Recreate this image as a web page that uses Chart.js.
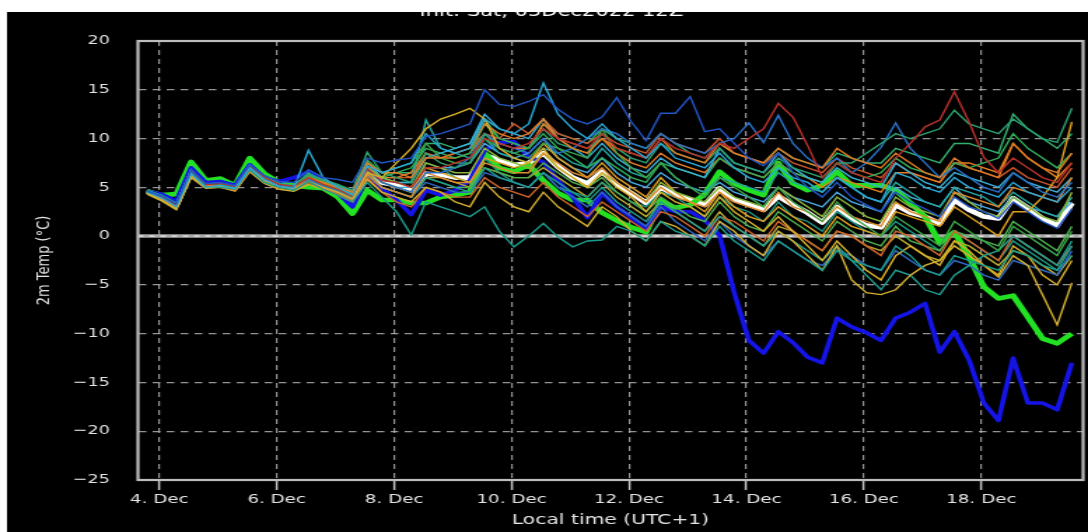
<!DOCTYPE html>
<html><head><meta charset="utf-8">
<script src="https://cdn.jsdelivr.net/npm/chart.js@4.4.0/dist/chart.umd.min.js"></script>
<style>html,body{margin:0;padding:0;background:#fff;overflow:hidden}canvas{display:block}</style>
</head><body>
<canvas id="c" width="777" height="532" style="width:1088px;height:532px"></canvas>
<script>
// forecast steps (hours after 4 Dec 00:00 local time), every 6 h
const hours = [-5,1,7,13,19,25,31,37,43,49,55,61,67,73,79,85,91,97,103,109,115,121,127,133,139,145,151,157,163,169,175,181,187,193,199,205,211,217,223,229,235,241,247,253,259,265,271,277,283,289,295,301,307,313,319,325,331,337,343,349,355,361,367,373];
const tickHours = [0,48,96,144,192,240,288,336];
const tickLabels = ['4. Dec','6. Dec','8. Dec','10. Dec','12. Dec','14. Dec','16. Dec','18. Dec'];
const titleText = 'Init: Sat, 03Dec2022 12Z';

const ensMean = [4.6,4.0,3.2,6.6, 5.2,5.3,5.0,7.1, 5.9,5.2,5.0,5.9, 5.2,4.7,4.0,6.8, 5.5,5.2,4.7,6.4, 6.3,6.0,6.0,8.3, 7.8,7.3,7.5,8.5, 7.1,6.0,5.4,6.6, 5.3,4.4,3.4,5.0, 4.2,3.7,3.2,4.9, 3.7,3.2,2.7,4.1, 3.2,2.4,1.4,3.0, 1.8,1.1,0.9,3.2, 2.4,2.0,1.3,3.7, 2.7,2.0,1.8,3.9, 2.9,1.8,1.1,3.4];
const control = [4.6,4.2,4.3,7.6, 5.7,5.9,5.2,8.0, 6.4,5.5,5.2,5.0, 4.9,4.0,2.3,4.7, 3.7,3.7,3.4,3.4, 4.0,4.2,4.5,8.5, 7.0,6.6,7.3,5.7, 4.4,3.7,3.7,2.4, 1.6,0.9,0.4,3.6, 2.9,3.2,4.3,6.6, 5.4,4.7,4.2,7.5, 5.4,4.7,5.2,6.6, 5.2,5.2,5.2,4.7, 3.4,2.0,-0.7,0.4, -2.1,-5.2,-6.4,-6.1, -8.3,-10.5,-11.0,-10.0];
const operational = [4.6,4.3,3.6,7.0, 5.5,5.6,5.2,7.3, 6.0,5.6,6.0,6.6, 5.7,4.4,3.0,6.0, 4.9,3.7,2.2,4.7, 4.2,4.7,5.7,8.8, 9.6,9.7,8.1,7.6, 5.7,4.0,1.9,4.4, 3.0,1.9,0.8,3.0, 2.5,2.5,1.6,0.1, -5.8,-10.7,-12.0,-9.8, -10.9,-12.4,-13.0,-8.4, -9.3,-9.9,-10.7,-8.4, -7.8,-6.9,-11.9,-9.8, -12.7,-17.1,-18.9,-12.5, -17.1,-17.1,-17.8,-13.0];

const m01 = [4.6,4.1,3.3,6.8, 5.4,5.5,5.2,7.3, 6.2,5.6,5.5,6.8, 6.0,5.8,5.5,8.0, 7.5,7.8,8.0,10.2, 10.5,11.0,11.5,15.0, 13.5,13.3,13.8,14.5, 13.0,12.0,11.5,12.2, 14.2,11.7,9.8,12.6, 12.6,14.3,10.7,11.0, 9.5,8.0,7.2,8.5, 6.5,5.0,4.0,5.5, 4.0,3.2,2.5,4.5, 3.5,2.8,2.0,4.0, 3.0,2.5,1.8,3.5, 2.5,1.5,0.8,2.8];
const m02 = [4.5,3.9,3.0,6.4, 5.0,5.2,4.9,7.0, 5.8,5.1,4.9,8.8, 6.0,5.0,4.2,7.2, 6.5,7.0,7.5,10.5, 9.0,8.5,9.0,12.0, 11.0,10.5,11.5,15.7, 12.5,11.0,10.0,11.5, 10.0,9.0,8.0,9.5, 8.0,7.5,7.0,8.5, 7.0,6.0,5.5,7.0, 6.0,5.5,4.5,6.0, 5.0,4.0,3.5,6.5, 6.0,5.0,4.5,6.0, 5.0,4.5,4.0,5.5, 4.5,4.0,3.5,5.0];
const m03 = [4.7,4.2,3.4,6.5, 5.1,5.0,4.8,6.8, 5.5,5.0,4.7,5.6, 4.8,4.2,3.5,5.5, 4.0,2.5,0.1,3.5, 3.0,2.5,2.0,3.0, 0.5,-1.1,0.0,1.3, -0.1,-1.1,-0.5,-0.4, 1.0,0.5,-0.5,1.5, 0.5,0.0,-1.0,1.0, -0.5,-1.5,-2.5,-0.5, -1.5,-2.5,-3.5,-1.5, -2.5,-3.0,-3.5,-1.0, -2.0,-3.5,-4.0,-2.0, -2.5,-3.0,-3.5,-1.5, -2.0,-3.0,-3.5,-1.0];
const m04 = [4.4,3.7,2.8,6.2, 5.0,5.1,4.8,6.9, 5.6,5.0,4.8,5.6, 5.0,4.5,3.8,6.5, 6.0,7.5,9.0,11.0, 12.0,12.5,13.1,12.0, 9.0,8.0,7.5,9.0, 7.0,6.0,5.0,6.5, 5.0,4.0,2.5,4.5, 3.5,3.0,2.0,4.0, 2.5,1.5,0.5,2.0, 0.5,-1.0,-2.5,-0.5, -2.0,-3.5,-4.5,-2.0, -1.0,-2.0,-3.0,-0.5, -1.5,-3.0,-4.0,-1.0, -2.0,-4.0,-5.0,-2.5];
const m05 = [4.6,4.0,3.2,6.7, 5.3,5.4,5.1,7.2, 6.0,5.3,5.1,6.0, 5.3,4.8,4.1,6.9, 5.7,5.5,5.0,7.0, 7.0,7.5,8.0,10.0, 9.5,9.0,9.5,11.0, 10.0,9.5,9.0,10.5, 9.0,8.5,8.0,10.0, 9.0,8.5,8.0,9.5, 9.0,10.0,11.0,13.6, 12.2,9.3,6.0,7.5, 6.5,6.0,5.5,8.0, 9.5,11.2,11.9,14.8, 11.7,8.1,6.5,8.0, 7.0,6.0,5.5,7.5];
const m06 = [4.5,3.8,3.0,6.3, 5.2,5.1,4.7,6.7, 5.7,5.1,4.9,6.0, 5.5,5.0,4.5,7.5, 6.5,6.5,6.0,8.0, 8.0,8.5,9.0,11.5, 10.5,10.0,10.5,12.0, 10.0,9.0,8.5,10.0, 9.0,8.5,8.0,10.0, 8.5,8.0,7.5,9.5, 8.5,8.0,7.5,9.0, 8.0,7.5,7.0,9.0, 8.0,7.5,7.0,8.5, 7.5,6.5,6.0,8.0, 7.0,6.5,6.0,9.5, 8.0,7.0,6.5,8.5];
const m07 = [4.3,3.6,2.7,6.0, 4.9,5.0,4.6,6.6, 5.4,4.8,4.6,5.3, 4.8,4.2,3.5,5.8, 4.5,4.0,3.5,5.0, 4.5,3.5,3.0,5.5, 4.0,3.0,2.5,4.5, 3.0,2.0,1.0,3.0, 2.0,0.5,-0.5,1.5, 1.0,0.0,-1.0,1.5, 0.5,-1.0,-2.0,0.5, -0.5,-2.0,-3.5,-1.0, -4.5,-5.8,-6.0,-5.5, -4.0,-3.0,-2.5,-1.0, -2.0,-3.0,-4.2,-2.0, -3.0,-6.0,-9.1,-4.8];
const m08 = [4.7,4.1,3.3,6.7, 5.3,5.4,5.0,7.2, 6.0,5.4,5.2,6.4, 5.8,5.3,4.7,8.6, 6.5,6.0,5.5,8.5, 7.5,7.0,7.5,10.5, 9.0,8.5,9.0,11.0, 9.5,9.0,8.5,10.5, 9.0,8.0,7.5,9.5, 8.5,8.0,7.5,9.0, 7.5,7.0,6.5,8.0, 7.0,6.5,6.0,7.5, 7.5,8.5,9.5,10.5, 10.0,10.5,11.0,12.9, 11.5,11.0,10.5,12.0, 11.0,10.0,9.6,13.1];
const m09 = [4.6,4.0,3.2,6.6, 5.1,5.2,4.9,7.0, 5.8,5.2,5.0,5.8, 5.1,4.6,3.8,6.9, 5.5,5.0,4.5,6.5, 6.5,7.0,8.0,10.5, 9.5,9.0,8.5,10.0, 8.5,9.0,10.0,11.0, 10.5,9.5,9.0,10.5, 9.5,9.0,8.5,9.5, 10.0,11.6,9.6,12.4, 9.5,8.0,7.0,8.0, 6.5,7.5,9.1,11.6, 9.0,7.5,6.0,7.0, 6.0,5.0,4.5,6.5, 5.5,4.5,4.0,5.5];
const m10 = [4.5,3.9,3.1,6.5, 5.2,5.3,5.0,7.1, 5.9,5.3,5.1,6.2, 5.6,5.1,4.5,7.8, 6.5,7.0,7.5,9.5, 8.0,7.5,7.5,10.0, 9.0,8.5,8.0,9.5, 9.0,8.5,8.0,11.0, 8.5,7.0,6.0,7.5, 6.0,5.0,4.0,6.0, 5.0,4.0,3.0,5.0, 3.5,2.5,1.5,3.5, 2.0,1.0,0.0,2.0, 1.0,0.0,-1.0,1.5, 0.5,-0.5,-1.5,1.0, 0.0,-1.0,-2.0,0.5];
const m11 = [4.6,4.0,3.1,6.6, 5.1,5.2,4.9,7.1, 5.9,5.2,4.9,5.8, 5.0,4.5,3.8,6.4, 5.0,4.5,4.0,6.5, 6.0,5.5,5.5,7.5, 7.0,6.5,6.5,8.5, 7.5,6.5,6.0,7.0, 5.5,4.5,3.5,5.0, 4.0,3.5,3.0,4.5, 3.5,3.0,2.5,4.5, 3.0,2.5,1.5,3.0, 2.0,1.5,1.0,3.5, 2.5,2.0,1.5,4.5, 4.0,3.5,3.0,5.0, 4.5,4.0,3.5,6.0];
const m12 = [4.7,4.1,3.3,6.6, 5.2,5.2,4.9,7.0, 5.9,5.2,5.0,5.9, 5.2,4.7,4.0,6.5, 5.0,4.5,4.0,6.0, 5.5,5.0,4.5,7.0, 6.0,5.5,5.0,6.5, 5.5,4.5,3.5,5.0, 3.5,2.5,1.5,3.5, 2.5,1.5,0.5,2.0, 1.0,0.0,-1.0,0.5, -0.5,-1.5,-2.5,-1.0, -2.5,-4.0,-5.5,-3.5, -4.0,-5.5,-6.0,-4.0, -3.0,-2.0,-1.5,0.0, -1.0,-2.0,-3.0,-0.5];
const m13 = [4.5,3.9,3.1,6.7, 5.3,5.3,5.0,7.2, 6.0,5.3,5.0,6.1, 5.4,4.8,4.2,7.0, 6.0,5.5,5.0,7.5, 7.0,6.5,6.5,9.0, 8.0,7.5,7.0,8.5, 7.0,6.0,5.0,6.5, 5.5,4.5,3.5,5.5, 4.5,4.0,3.5,5.0, 4.0,3.5,3.0,5.0, 4.0,3.0,2.0,4.0, 3.0,2.0,1.5,4.0, 3.0,2.5,2.0,4.5, 3.5,2.5,2.0,4.0, 3.0,2.0,1.5,4.5];
const m14 = [4.6,4.0,3.3,6.8, 5.3,5.4,5.1,7.3, 6.0,5.4,5.2,6.3, 5.7,5.2,4.6,7.6, 6.0,5.5,5.5,8.0, 8.5,9.0,9.5,12.5, 11.0,10.5,10.0,12.0, 10.0,9.0,8.0,9.5, 8.0,7.0,6.5,8.0, 7.0,6.5,6.0,9.0, 7.5,7.0,6.5,8.5, 7.0,6.0,5.5,7.0, 6.0,5.5,5.0,7.5, 6.5,5.5,5.0,6.5, 6.0,5.5,5.0,6.5, 5.5,5.0,4.5,6.0];
const m15 = [4.4,3.7,2.9,6.2, 5.0,5.1,4.7,6.8, 5.6,5.0,4.7,5.5, 4.9,4.3,3.6,6.0, 4.5,3.5,3.0,5.0, 4.5,4.0,4.0,6.0, 5.0,4.5,4.0,5.5, 4.0,3.0,2.0,3.5, 2.5,1.5,0.5,2.5, 2.0,1.0,0.0,2.0, 1.5,0.5,-0.5,1.5, 0.5,-0.5,-1.5,0.5, 0.0,-1.0,-2.0,0.5, 0.0,-1.0,-2.0,0.5, -0.5,-1.5,-2.5,0.0, -1.0,-2.0,-3.0,-1.0];
const m16 = [4.6,4.1,3.3,6.6, 5.2,5.3,5.0,7.0, 5.9,5.2,5.0,5.9, 5.3,4.8,4.1,6.8, 6.0,6.5,7.0,9.0, 8.5,8.0,8.5,11.5, 10.0,9.5,9.0,10.5, 9.0,8.0,7.0,8.0, 7.0,6.0,5.5,7.5, 7.0,6.5,6.0,8.0, 7.0,6.5,6.0,7.5, 6.5,6.0,5.5,7.5, 6.5,6.0,6.5,8.0, 7.0,6.5,6.0,7.5, 7.0,7.5,8.0,10.5, 9.0,8.0,7.0,8.5];
const m17 = [4.5,3.8,3.0,6.5, 5.1,5.1,4.8,6.9, 5.7,5.1,4.8,5.7, 5.1,4.6,3.9,6.6, 5.5,5.0,4.5,7.0, 6.5,6.0,5.5,8.0, 7.5,7.0,7.5,9.5, 8.0,7.0,6.0,7.5, 6.0,5.0,4.0,6.0, 4.5,3.5,2.5,4.5, 3.0,2.0,1.5,3.0, 2.0,1.0,0.0,2.0, 1.0,0.5,0.0,2.5, 2.0,1.5,1.0,3.0, 2.0,1.0,0.0,2.5, 2.5,4.0,6.0,11.7];
const m18 = [4.7,4.1,3.2,6.6, 5.2,5.3,5.0,7.2, 6.0,5.4,5.1,6.5, 5.6,5.0,4.3,7.0, 6.0,5.5,5.5,11.9, 9.0,8.5,8.0,10.0, 8.5,8.0,7.5,9.0, 8.5,7.5,7.0,9.0, 7.5,6.5,6.0,7.5, 6.0,5.0,4.5,6.0, 5.5,5.0,4.5,6.5, 5.5,5.0,4.5,6.0, 5.0,4.0,3.5,5.5, 4.5,3.5,3.0,5.0, 4.5,4.0,3.0,4.5, 3.5,2.5,2.0,4.0];
const m19 = [4.6,4.0,3.2,6.5, 5.1,5.2,4.9,7.0, 5.8,5.2,5.0,5.7, 5.0,4.5,3.8,6.3, 5.0,4.5,4.0,5.5, 5.0,4.5,4.5,6.5, 6.0,5.5,5.0,6.5, 5.0,4.0,3.0,4.5, 3.0,2.0,1.0,3.0, 1.5,0.5,-0.5,1.5, 0.0,-1.0,-2.0,-0.5, -1.5,-2.5,-3.0,-1.5, -2.0,-3.0,-3.5,-1.5, -2.5,-3.5,-4.0,-2.5, -3.0,-4.0,-4.5,-2.5, -3.0,-3.5,-4.0,-1.5];
const m20 = [4.5,3.9,3.1,6.5, 5.2,5.2,4.9,7.0, 5.8,5.2,5.0,6.0, 5.3,4.8,4.2,6.9, 6.0,6.0,6.5,8.5, 8.0,8.0,8.5,10.5, 9.5,9.0,9.0,11.5, 10.0,9.5,9.0,10.0, 8.5,7.5,7.0,8.5, 7.5,7.0,6.5,8.0, 7.0,6.5,6.0,7.5, 6.5,6.0,5.0,6.0, 5.5,5.0,4.5,6.5, 6.5,6.0,5.5,7.5, 7.5,7.0,6.5,9.5, 8.0,7.0,6.0,7.5];
const m21 = [4.6,4.0,3.2,6.6, 5.2,5.2,4.9,7.0, 5.8,5.1,4.9,5.7, 5.1,4.6,3.9,6.5, 5.0,4.5,4.0,6.0, 5.5,5.0,5.0,7.0, 6.5,6.0,6.0,7.5, 6.5,5.5,5.0,6.0, 4.5,3.5,2.5,4.0, 3.0,2.0,1.5,3.5, 2.0,1.0,0.5,2.5, 1.5,0.5,-0.5,1.5, 0.5,-0.5,-1.0,1.0, -0.5,-1.0,-1.5,0.5, 0.0,-0.5,-1.0,1.5, 0.5,-0.5,-1.5,1.0];
const m22 = [4.6,4.0,3.2,6.7, 5.2,5.3,5.0,7.1, 5.9,5.3,5.0,6.1, 5.4,4.9,4.3,7.2, 6.0,6.0,6.0,8.5, 8.0,8.5,9.0,10.5, 10.0,11.5,10.5,12.0, 10.5,10.0,9.5,10.5, 9.5,9.0,8.5,10.5, 9.5,9.0,8.5,10.0, 8.5,8.0,7.5,8.5, 7.5,7.0,6.5,8.0, 7.0,6.5,6.0,7.5, 6.5,6.0,5.5,7.5, 7.0,6.5,6.0,7.0, 6.0,5.5,5.0,7.0];
const m23 = [4.6,4.0,3.2,6.6, 5.2,5.2,4.9,7.1, 5.9,5.2,5.0,6.0, 5.3,4.7,4.0,6.7, 5.5,5.0,4.5,7.5, 7.0,6.0,5.5,8.0, 6.5,5.5,5.0,6.5, 5.0,4.5,4.0,5.5, 4.5,3.5,3.0,4.5, 4.0,3.0,2.0,4.0, 3.0,2.5,1.5,3.5, 2.0,1.5,0.5,2.5, 1.5,0.5,0.0,1.5, 0.5,-0.5,-1.5,0.5, -0.5,-1.5,-2.5,-0.5, -1.5,-2.5,-3.5,-2.0];
const m24 = [4.7,4.1,3.3,6.7, 5.2,5.3,5.0,7.1, 5.9,5.3,5.0,6.0, 5.4,4.9,4.2,7.1, 5.5,5.0,5.0,7.0, 7.0,7.0,7.5,9.5, 8.5,8.0,8.5,10.0, 8.0,7.0,6.5,8.0, 6.5,5.5,5.0,6.5, 5.5,5.0,4.5,5.5, 4.5,4.0,3.5,5.0, 4.0,3.5,3.0,4.5, 3.5,3.0,2.5,5.0, 4.0,3.5,3.0,5.0, 3.5,3.0,2.5,4.0, 3.0,2.5,2.0,3.5];
const m25 = [4.4,3.7,2.8,6.3, 5.0,5.0,4.7,6.8, 5.6,5.0,4.8,5.5, 4.9,4.4,3.7,6.2, 5.0,4.5,4.0,6.0, 6.0,5.5,5.0,7.0, 6.5,6.0,6.0,7.0, 6.0,5.0,4.0,5.5, 4.0,3.0,2.0,3.5, 2.5,1.5,0.5,2.5, 1.0,0.0,-1.0,1.0, 0.5,-0.5,-1.5,0.5, 0.0,-1.0,-1.5,0.0, -1.0,-2.0,-2.5,-0.5, -1.0,-2.0,-3.0,-1.5, -2.0,-3.0,-4.0,-2.0];
const m26 = [4.6,4.0,3.3,6.7, 5.3,5.3,5.0,7.2, 6.0,5.3,5.1,6.2, 5.5,5.0,4.4,7.5, 6.5,6.5,6.5,9.5, 9.5,9.0,9.5,12.0, 10.0,9.5,9.0,11.5, 10.5,10.0,9.5,11.0, 10.0,9.5,9.0,10.5, 9.5,8.5,8.0,9.5, 8.5,8.0,7.5,9.0, 8.0,7.5,7.0,8.5, 8.0,7.5,7.5,9.0, 8.5,8.0,7.5,9.5, 9.5,9.0,8.5,12.5, 11.0,10.0,9.0,10.5];

const members = [m01,m02,m03,m04,m05,m06,m07,m08,m09,m10,m11,m12,m13,m14,m15,m16,m17,m18,m19,m20,m21,m22,m23,m24,m25,m26];
const memberColors = ['#2255c4','#29a9d8','#1a9c8c','#d9b02a','#b8302a','#e07b24','#d4b030','#2aa070','#2a70c8','#3aa548','#e08a30','#1f9e92','#8ab83a','#3ab0d8','#d0652a','#2fae5a','#e0a020','#23a6a0','#2f68c0','#e67e22','#4caf50','#c8552a','#1d9a86','#4aa8e0','#b8a832','#30b070'];

const toXY = arr => arr.map((v,i)=>({x:hours[i], y:v}));

Chart.defaults.font.family = "'DejaVu Sans', sans-serif";
const textCol = '#e4e4e4';
const gridCol = 'rgba(185,185,185,0.8)';

const datasets = members.map((m,k)=>({
  data: toXY(m), borderColor: memberColors[k], borderWidth: 1.4, pointRadius: 0, tension: 0
}));
datasets.push({data: toXY(operational), borderColor:'#1414e6', borderWidth:3.6, pointRadius:0, borderJoinStyle:'round'});
datasets.push({data: toXY(control), borderColor:'#22e022', borderWidth:4.6, pointRadius:0, borderJoinStyle:'round'});
datasets.push({data: toXY(ensMean), borderColor:'#ffffff', borderWidth:4.6, pointRadius:0, borderJoinStyle:'round'});

const deco = {
  id:'deco',
  beforeDraw(chart){const c=chart.ctx;c.save();c.fillStyle='#000';c.fillRect(0,0,chart.width,chart.height);c.restore();},
  beforeDatasetsDraw(chart){
    const {ctx, chartArea:a, scales:{y}} = chart; const yy = y.getPixelForValue(0);
    ctx.save(); ctx.beginPath(); ctx.moveTo(a.left,yy); ctx.lineTo(a.right,yy);
    ctx.strokeStyle='#a8a8a8'; ctx.lineWidth=3.5; ctx.stroke();
    ctx.setLineDash([4,4]); ctx.strokeStyle='#e2e2e2'; ctx.lineWidth=1.4; ctx.stroke(); ctx.restore();
  },
  afterDraw(chart){
    const {ctx, chartArea:a} = chart; ctx.save();
    ctx.strokeStyle='#bdbdbd'; ctx.lineWidth=2.2; ctx.strokeRect(a.left,a.top,a.right-a.left,a.bottom-a.top);
    ctx.fillStyle='#fff'; ctx.fillRect(0,0,chart.width,12); ctx.fillRect(0,0,5,chart.height);
    ctx.restore();
  }
};

new Chart(document.getElementById('c'), {
  type:'line',
  data:{datasets},
  plugins:[deco],
  options:{
    responsive:false, animation:false, devicePixelRatio:1,
    layout:{padding:{left:14,right:3.5,top:0,bottom:0}},
    plugins:{
      legend:{display:false}, tooltip:{enabled:false},
      title:{display:true, text:titleText, color:'#ffffff', font:{size:15, weight:'normal'}, padding:{top:3,bottom:20}}
    },
    scales:{
      x:{type:'linear', min:-8.7, max:377.6,
        afterBuildTicks: s => { s.ticks = tickHours.map(v=>({value:v})); },
        afterFit: s => { s.height = 52; },
        ticks:{autoSkip:false, maxRotation:0, color:textCol, font:{size:13}, padding:2,
          callback: v => { const k = tickHours.indexOf(v); return k>=0 ? tickLabels[k] : ''; }},
        grid:{color:gridCol, lineWidth:1.2, drawTicks:true, tickLength:10, tickColor:'#c4c4c4', tickWidth:1.5},
        border:{display:false, dash:[5,4]},
        title:{display:true, text:'Local time (UTC+1)', color:textCol, font:{size:14.5}, padding:{top:0,bottom:3.5}}
      },
      y:{type:'linear', min:-25, max:20,
        afterFit: s => { s.width = 84.5; },
        ticks:{stepSize:5, color:textCol, font:{size:12.5}, padding:20,
          callback: v => String(v).replace('-', '\u2212')},
        grid:{color: c => (c.tick && c.tick.value === 0) ? 'rgba(0,0,0,0)' : gridCol, lineWidth:1.2, drawTicks:false},
        border:{display:false, dash:[5.5,4.5]},
        title:{display:true, text:'2m Temp (°C)', color:textCol, font:{size:13}, padding:{top:10,bottom:0}}
      }
    }
  }
});
</script>
</body></html>
